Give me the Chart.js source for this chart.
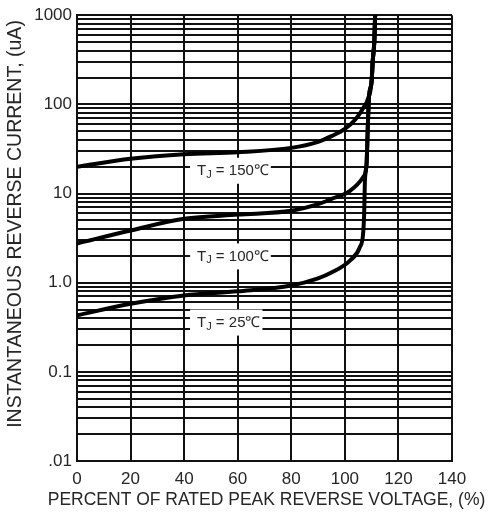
<!DOCTYPE html>
<html>
<head>
<meta charset="utf-8">
<script src="https://cdn.jsdelivr.net/npm/chart.js@4/dist/chart.umd.min.js"></script>
<style>
  html, body { margin: 0; padding: 0; background: #fff; }
  #wrap { width: 488px; height: 516px; }
</style>
</head>
<body>
<div id="wrap"><canvas id="chart" width="488" height="516"></canvas></div>
<script>
// Typical reverse characteristics
const decades = [0.01, 0.1, 1, 10, 100, 1000];
const decadeLabels = [".01", "0.1", "1.0", "10", "100", "1000"];
const minorSteps = [1, 2, 3, 4, 5, 6, 7, 8, 9];
const xTicks = [0, 20, 40, 60, 80, 100, 120, 140];

// T_J = 150 C
const pct150 = [0, 20, 40, 60, 80, 90, 95, 100, 104, 107, 108.6, 110, 110.4, 111, 111.3];
const cur150 = [20, 24.5, 27.6, 29, 32.5, 38, 44, 53, 68, 92, 115, 183, 305, 512, 1000];

// T_J = 100 C
const pct100 = [0, 20, 40, 60, 80, 90, 95, 101.9, 106.8, 108.1, 108.6, 109, 110, 110.4, 111, 111.3];
const cur100 = [2.75, 3.85, 5.2, 5.8, 6.4, 7.6, 8.7, 10.7, 15.2, 21.3, 60, 120, 183, 305, 512, 1000];

// T_J = 25 C
const pct25 = [0, 20, 40, 60, 80, 90, 95, 101.9, 105.6, 106.8, 107.2, 107.5, 108.1, 108.6, 109, 110, 110.4, 111, 111.3];
const cur25 = [0.43, 0.58, 0.72, 0.8, 0.93, 1.12, 1.3, 1.77, 2.5, 3.5, 5.9, 13.9, 21.3, 60, 120, 183, 305, 512, 1000];

// curve labels (box left edge in %, centre in uA)
const tempLabels = ["150\u2103", "100\u2103", "25\u2103"];
const labelX = [42.2, 42.2, 42.2];
const labelY = [18, 1.97, 0.357];

const yTitle = "INSTANTANEOUS REVERSE CURRENT, (uA)";
const xTitle = "PERCENT OF RATED PEAK REVERSE VOLTAGE, (%)";

const canvas = document.getElementById("chart");
const ctx = canvas.getContext("2d");

// narrow face if the box has it, plain sans otherwise
function hasFont(name) {
  ctx.font = "20px monospace";
  const a = ctx.measureText("PERCENT OF RATED").width;
  ctx.font = '20px "' + name + '", monospace';
  return ctx.measureText("PERCENT OF RATED").width !== a;
}
const narrow = hasFont("Liberation Sans Narrow");
const tickFont = narrow
  ? { family: '"Liberation Sans Narrow"', size: 20 }
  : { family: '"Liberation Sans", Arial', size: 17 };
const xTitleFont = narrow ? '20px "Liberation Sans Narrow"' : '17.5px "Liberation Sans", Arial';
const yTitleFont = '19.5px "Liberation Sans", Arial';
const labelFont = '15px "Liberation Sans", Arial';
const subFont = '11px "Liberation Sans", Arial';
const textColor = "#262626";

function toPoints(xs, ys) {
  return xs.map((x, i) => ({ x: x, y: ys[i] }));
}

const yTickValues = [];
decades.forEach(d => {
  if (d === 1000) { yTickValues.push(d); return; }
  minorSteps.forEach(m => yTickValues.push(m * d));
});

// white boxes + "TJ = ..." text, drawn over the grid but under the curves
const curveLabels = {
  id: "curveLabels",
  beforeDatasetsDraw(chart) {
    const c = chart.ctx;
    const xs = chart.scales.x, ys = chart.scales.y;
    c.save();
    tempLabels.forEach((t, i) => {
      const left = xs.getPixelForValue(labelX[i]);
      const cy = ys.getPixelForValue(labelY[i]);
      c.font = labelFont;
      const wT = c.measureText("T").width;
      c.font = subFont;
      const wJ = c.measureText("J").width;
      c.font = labelFont;
      const rest = " = " + t;
      const wR = c.measureText(rest).width;
      const w = 7 + wT + wJ + wR + 2;
      c.fillStyle = "#fff";
      c.fillRect(left, cy - 13, w, 26);
      c.fillStyle = textColor;
      c.textBaseline = "middle";
      c.textAlign = "left";
      let px = left + 7;
      c.fillText("T", px, cy);
      px += wT;
      c.font = subFont;
      c.fillText("J", px, cy + 4);
      px += wJ;
      c.font = labelFont;
      c.fillText(rest, px, cy);
    });
    c.restore();
  }
};

// axis titles
const axisTitles = {
  id: "axisTitles",
  afterDraw(chart) {
    const c = chart.ctx;
    const a = chart.chartArea;
    c.save();
    c.fillStyle = textColor;
    c.textAlign = "center";
    c.textBaseline = "middle";
    c.font = xTitleFont;
    c.fillText(xTitle, (a.left + a.right) / 2 + 2, 500);
    c.translate(16, 224);
    c.rotate(-Math.PI / 2);
    c.font = yTitleFont;
    c.fillText(yTitle, 0, 0);
    c.restore();
  }
};

const lineStyle = {
  borderColor: "#000",
  borderWidth: 4,
  pointRadius: 0,
  fill: false,
  cubicInterpolationMode: "monotone"
};

new Chart(canvas, {
  type: "line",
  data: {
    datasets: [
      Object.assign({ label: "150", data: toPoints(pct150, cur150) }, lineStyle),
      Object.assign({ label: "100", data: toPoints(pct100, cur100) }, lineStyle),
      Object.assign({ label: "25", data: toPoints(pct25, cur25) }, lineStyle)
    ]
  },
  options: {
    responsive: false,
    animation: false,
    devicePixelRatio: 1,
    layout: { padding: { top: 14, right: 36, left: 0, bottom: 0 } },
    plugins: { legend: { display: false }, tooltip: { enabled: false } },
    scales: {
      x: {
        type: "linear",
        min: 0,
        max: 140,
        afterBuildTicks: s => { s.ticks = xTicks.map(v => ({ value: v })); },
        afterFit: s => { s.height = 55; },
        grid: { color: "#111", lineWidth: 2, drawTicks: false },
        border: { color: "#111", width: 2 },
        ticks: { color: textColor, font: tickFont, padding: 8, maxRotation: 0, autoSkip: false }
      },
      y: {
        type: "logarithmic",
        min: 0.01,
        max: 1000,
        afterBuildTicks: s => { s.ticks = yTickValues.map(v => ({ value: v })); },
        afterFit: s => { s.width = 77; },
        grid: { color: "#111", lineWidth: 2, drawTicks: false },
        border: { color: "#111", width: 2 },
        ticks: {
          color: textColor,
          font: tickFont,
          padding: 5,
          autoSkip: false,
          callback: v => {
            const i = decades.indexOf(v);
            return i >= 0 ? decadeLabels[i] : "";
          }
        }
      }
    }
  },
  plugins: [curveLabels, axisTitles]
});
</script>
</body>
</html>
